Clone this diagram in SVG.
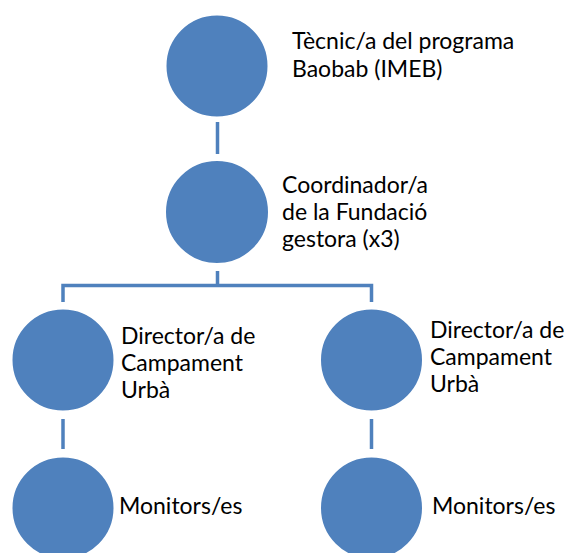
<svg xmlns="http://www.w3.org/2000/svg" width="565" height="553" viewBox="0 0 565 553">
<style>
.node{fill:#4F81BD;stroke:#ffffff;stroke-width:2}
.lbl{font-family:Lato,"Liberation Sans",sans-serif;font-size:23px;fill:#000000}
.conn{stroke:#4F81BD;stroke-width:3.5;fill:none}
</style>
<rect width="565" height="553" fill="#ffffff"/>
<g id="connectors">
<line class="conn" x1="217.5" y1="122" x2="217.5" y2="154"/>
<path class="conn" d="M217.5 271 V285.5 M63 302 V285.5 H371.5 V302"/>
<line class="conn" x1="63" y1="419" x2="63" y2="449"/>
<line class="conn" x1="371.5" y1="419" x2="371.5" y2="449"/>
</g>
<g id="tecnic">
<circle class="node" cx="217" cy="66" r="51.5"/>
<text class="lbl" x="292" y="49">Tècnic/a del programa</text>
<text class="lbl" x="292" y="77">Baobab (IMEB)</text>
</g>
<g id="coordinador">
<circle class="node" cx="217" cy="212" r="52"/>
<text class="lbl" x="282" y="193">Coordinador/a</text>
<text class="lbl" x="282" y="220">de la Fundació</text>
<text class="lbl" x="282" y="247">gestora (x3)</text>
</g>
<g id="director1">
<circle class="node" cx="63" cy="360" r="51.5"/>
<text class="lbl" x="121" y="344">Director/a de</text>
<text class="lbl" x="121" y="371">Campament</text>
<text class="lbl" x="121" y="398">Urbà</text>
</g>
<g id="director2">
<circle class="node" cx="371.5" cy="360" r="51.5"/>
<text class="lbl" x="430" y="338">Director/a de</text>
<text class="lbl" x="430" y="365">Campament</text>
<text class="lbl" x="430" y="392">Urbà</text>
</g>
<g id="monitors1">
<circle class="node" cx="63" cy="508" r="51.5"/>
<text class="lbl" x="119" y="514">Monitors/es</text>
</g>
<g id="monitors2">
<circle class="node" cx="371.5" cy="508" r="51.5"/>
<text class="lbl" x="432" y="514">Monitors/es</text>
</g>
</svg>
